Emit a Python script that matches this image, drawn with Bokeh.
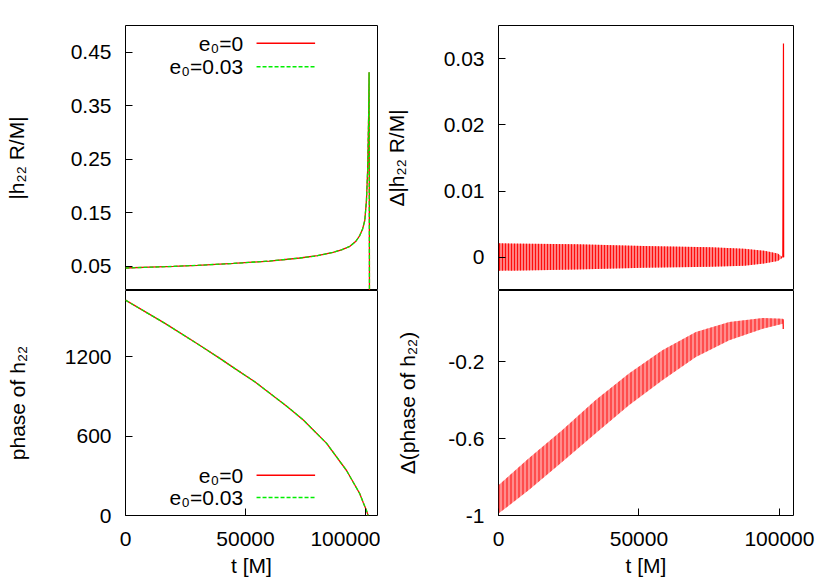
from bokeh.plotting import figure
from bokeh.models import Range1d, FixedTicker, NumeralTickFormatter, Label, Arrow
from bokeh.layouts import column, row
from bokeh.embed import file_html
from bokeh.resources import INLINE

# ---------------- data ----------------
# |h22 R/M| (both eccentricities coincide at this scale)
amp_t = [0, 10000, 20000, 30000, 45000, 60000, 72700, 80000, 86500, 90000,
         93500, 96000, 97600, 98800, 99700, 100400, 100900, 101300, 101500, 101650]
amp_e0 = [0.047, 0.0485, 0.050, 0.052, 0.0555, 0.060, 0.0657, 0.070, 0.0763, 0.081,
          0.0875, 0.097, 0.1076, 0.120, 0.1357, 0.1733, 0.23, 0.33, 0.4125, 0.0]
amp_e003 = [0.047, 0.0485, 0.050, 0.052, 0.0555, 0.060, 0.0657, 0.070, 0.0763, 0.081,
            0.0875, 0.097, 0.1076, 0.120, 0.1357, 0.1733, 0.23, 0.33, 0.4125, 0.0]

# phase of h22
ph_t = [0, 16620, 29780, 39470, 45000, 54010, 67170, 74090, 83800, 92100,
        97630, 99000, 100400, 101100]
ph_e0 = [1627, 1450, 1299, 1185, 1117, 1009, 826, 722, 545, 340, 164, 100, 38, 0]
ph_e003 = [1627, 1450, 1299, 1185, 1117, 1009, 826, 722, 545, 340, 164, 100, 38, 0]

# Delta |h22 R/M| : oscillation envelope and merger spike
damp_t = [0, 28000, 51800, 75600, 87500, 94600, 99400, 101200]
damp_up = [0.00212, 0.00197, 0.00171, 0.00151, 0.0013, 0.0010, 0.0006, 0.0]
damp_lo = [-0.00203, -0.00182, -0.00157, -0.00142, -0.00127, -0.00091, -0.00056, 0.0]
spike_t = [101200, 101430, 101500]
spike_v = [0.0, 0.0323, 0.0]

# Delta(phase of h22) : oscillation envelope and end tail
dph_t = [0, 10700, 22640, 34500, 46430, 58330, 70250, 82140, 94070, 101200]
dph_up = [-0.843, -0.704, -0.557, -0.401, -0.262, -0.141, -0.046, 0.006, 0.027, 0.023]
dph_lo = [-0.99, -0.869, -0.722, -0.574, -0.427, -0.297, -0.176, -0.089, -0.029, -0.003]
tail_t = [101300, 101350]
tail_v = [0.02, -0.03]

x_ticks = [0, 50000, 100000]
amp_ticks = [0.05, 0.15, 0.25, 0.35, 0.45]
damp_ticks = [0, 0.01, 0.02, 0.03]
ph_ticks = [0, 600, 1200]
dph_ticks = [-1, -0.6, -0.2]

legend_labels = ["e\u2080=0", "e\u2080=0.03"]

FONT = "Liberation Sans"
FS = "21px"
RED = "#ff0000"
GREEN = "#00ee00"


def make_fig(width, height, mbl, mbr, mbt, mbb, yr, yticks, yfmt, ylabel,
             ystand, xaxis):
    p = figure(width=width, height=height,
               x_range=Range1d(0, 105000), y_range=Range1d(*yr),
               output_backend="svg", toolbar_location=None, title=None,
               x_axis_location="below" if xaxis else None,
               min_border_left=mbl, min_border_right=mbr,
               min_border_top=mbt, min_border_bottom=mbb)
    p.grid.visible = False
    p.outline_line_color = "black"
    p.outline_line_width = 1
    p.background_fill_color = "white"
    p.border_fill_color = "white"
    for ax in p.axis:
        ax.axis_line_color = None
        ax.major_tick_in = 7
        ax.major_tick_out = 0
        ax.major_tick_line_color = "black"
        ax.minor_tick_line_color = None
        ax.major_label_text_font = FONT
        ax.major_label_text_font_size = FS
        ax.major_label_text_color = "black"
        ax.axis_label_text_font = FONT
        ax.axis_label_text_font_size = FS
        ax.axis_label_text_font_style = "normal"
        ax.axis_label_text_color = "black"
    p.yaxis.ticker = FixedTicker(ticks=yticks)
    p.yaxis.formatter = NumeralTickFormatter(format=yfmt)
    p.yaxis.axis_label = ylabel
    p.yaxis.major_label_standoff = 14
    p.yaxis.axis_label_standoff = ystand
    if xaxis:
        p.xaxis.ticker = FixedTicker(ticks=x_ticks)
        p.xaxis.formatter = NumeralTickFormatter(format="0")
        p.xaxis.axis_label = "t [M]"
        p.xaxis.major_label_standoff = 16
        p.xaxis.axis_label_standoff = 5
    return p


def add_legend(p, xt, xs0, xs1, ys):
    for lab, y, col, dash in zip(legend_labels, ys, [RED, GREEN], ["solid", "4 2"]):
        p.add_layout(Label(x=xt, y=y, text=lab, text_align="right",
                           text_baseline="middle", text_font=FONT,
                           text_font_size=FS, text_color="black"))
        p.add_layout(Arrow(end=None, x_start=xs0, y_start=y, x_end=xs1, y_end=y,
                           line_color=col, line_width=1.5, line_dash=dash))


# top-left: amplitude
tl = make_fig(380, 290, 125, 3, 25, 0, (0.005, 0.5), amp_ticks, "0.00",
              "|h\u2082\u2082 R/M|", 40, False)
tl.line(amp_t, amp_e0, line_color=RED, line_width=1.3)
tl.line(amp_t, amp_e003, line_color=GREEN, line_width=1.3, line_dash="4 2")
add_legend(tl, 49000, 54600, 79000, [0.4669, 0.423])

# top-right: Delta amplitude
tr = make_fig(448, 290, 118, 35, 25, 0, (-0.005, 0.035), damp_ticks, "0.[00]",
              "\u0394|h\u2082\u2082 R/M|", 33, False)
tr.varea(x=damp_t, y1=damp_lo, y2=damp_up, fill_color=RED, fill_alpha=0.5,
         hatch_pattern="|", hatch_color=RED, hatch_scale=3, hatch_weight=1,
         hatch_alpha=0.9)
tr.line(spike_t, spike_v, line_color=RED, line_width=1.2)

# bottom-left: phase
bl = make_fig(380, 291, 125, 3, 0, 66, (0, 1700), ph_ticks, "0",
              "phase of h\u2082\u2082", 33, True)
bl.line(ph_t, ph_e0, line_color=RED, line_width=1.3)
bl.line(ph_t, ph_e003, line_color=GREEN, line_width=1.3, line_dash="4 2")
add_legend(bl, 49000, 54600, 79000, [305, 136])

# bottom-right: Delta phase
br = make_fig(448, 291, 118, 35, 0, 66, (-1, 0.17), dph_ticks, "0.[0]",
              "\u0394(phase of h\u2082\u2082)", 26, True)
br.varea(x=dph_t, y1=dph_lo, y2=dph_up, fill_color=RED, fill_alpha=0.45,
         hatch_pattern="|", hatch_color=RED, hatch_scale=4, hatch_weight=1,
         hatch_alpha=0.9)
br.line(tail_t, tail_v, line_color=RED, line_width=1.2)

layout = column(row(tl, tr), row(bl, br))
open("out.html", "w").write(file_html(layout, INLINE))
